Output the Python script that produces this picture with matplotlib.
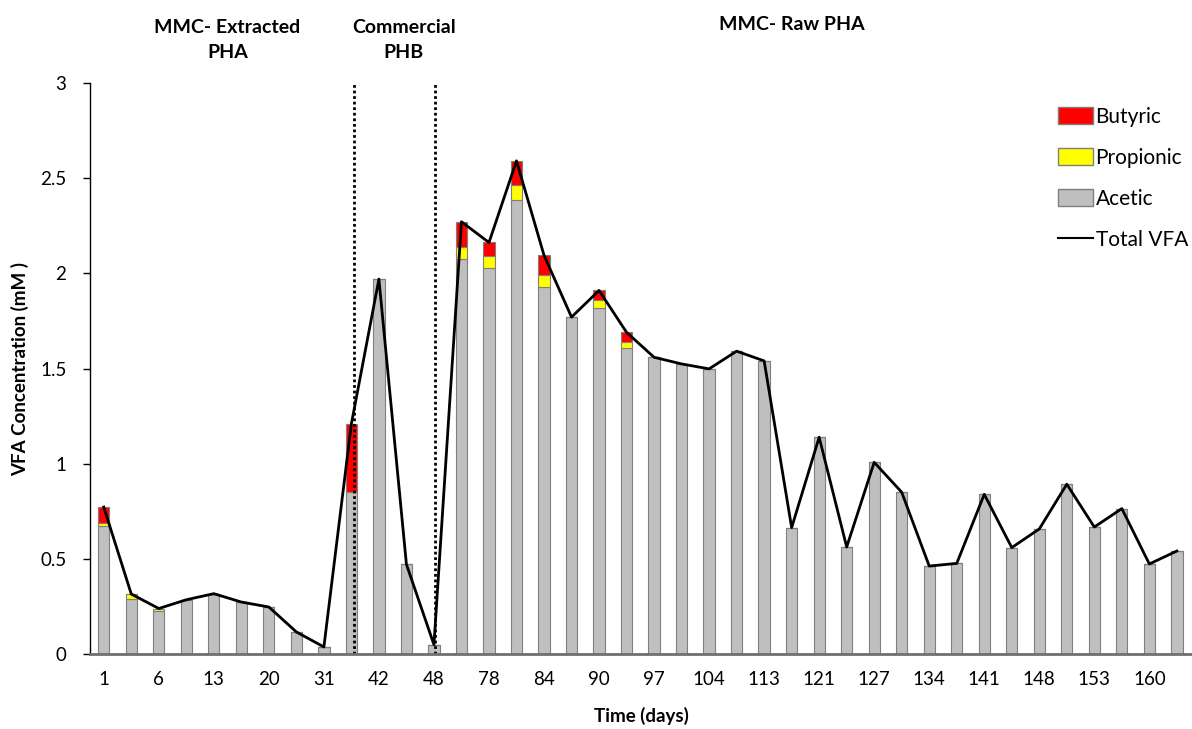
import matplotlib
matplotlib.use("Agg")
import matplotlib.pyplot as plt
import numpy as np
from matplotlib.patches import Patch
from matplotlib.lines import Line2D

plt.rcParams['font.family'] = ['Lato', 'DejaVu Sans']

# ---- data ----
shown_day_labels = ["1", "6", "13", "20", "31", "42", "48", "78", "84", "90",
                    "97", "104", "113", "121", "127", "134", "141", "148", "153", "160"]
acetic = [0.67, 0.29, 0.227, 0.285, 0.317, 0.273, 0.247, 0.116, 0.037, 0.85,
          1.97, 0.471, 0.049, 2.075, 2.026, 2.383, 1.93, 1.77, 1.82, 1.61,
          1.559, 1.524, 1.498, 1.591, 1.54, 0.664, 1.139, 0.562, 1.007, 0.85,
          0.462, 0.476, 0.839, 0.559, 0.657, 0.892, 0.667, 0.764, 0.473, 0.541]
propionic = [0.018, 0.025, 0.012, 0, 0, 0, 0, 0, 0, 0,
             0, 0, 0, 0.061, 0.063, 0.082, 0.06, 0, 0.04, 0.03,
             0, 0, 0, 0, 0, 0, 0, 0, 0, 0,
             0, 0, 0, 0, 0, 0, 0, 0, 0, 0]
butyric = [0.084, 0, 0, 0, 0, 0, 0, 0, 0, 0.36,
           0, 0, 0, 0.135, 0.073, 0.126, 0.105, 0, 0.05, 0.05,
           0, 0, 0, 0, 0, 0, 0, 0, 0, 0,
           0, 0, 0, 0, 0, 0, 0, 0, 0, 0]
total_vfa = [0.772, 0.315, 0.239, 0.285, 0.317, 0.273, 0.247, 0.116, 0.037, 1.21,
             1.97, 0.471, 0.049, 2.271, 2.162, 2.591, 2.095, 1.77, 1.91, 1.69,
             1.559, 1.524, 1.498, 1.591, 1.54, 0.664, 1.139, 0.562, 1.007, 0.85,
             0.462, 0.476, 0.839, 0.559, 0.657, 0.892, 0.667, 0.764, 0.473, 0.541]
phase_labels = ["MMC- Extracted\nPHA", "Commercial\nPHB", "MMC- Raw PHA"]
phase_centers = [4.5, 10.9, 25.0]
phase_bounds = [9.08, 12.05]

acetic = np.array(acetic)
propionic = np.array(propionic)
butyric = np.array(butyric)
x = np.arange(len(acetic))

W, H = 1192, 729
fig = plt.figure(figsize=(W / 100, H / 100), dpi=100)
ax = fig.add_axes([90 / W, (H - 654) / H, 1 - 90 / W, (654 - 83) / H])

w = 0.41
ec = '#7f7f7f'
ax.bar(x, acetic, width=w, color='#bfbfbf', edgecolor=ec, linewidth=0.8, zorder=2)
ax.bar(x, propionic, width=w, bottom=acetic, color='#ffff00', edgecolor=ec, linewidth=0.8, zorder=2)
ax.bar(x, butyric, width=w, bottom=acetic + propionic, color='#ff0000', edgecolor=ec, linewidth=0.8, zorder=2)
ax.plot(x, total_vfa, color='black', linewidth=2, zorder=4)

for b in phase_bounds:
    ax.plot([b, b], [0, 3], color='black', linestyle=(0, (1, 1)), linewidth=2, zorder=5)

ax.set_xlim(-0.5, 39.55)
ax.set_ylim(0, 3)
ax.set_yticks([0, 0.5, 1, 1.5, 2, 2.5, 3])
ax.set_yticklabels(["0", "0.5", "1", "1.5", "2", "2.5", "3"])
ax.set_xticks(x[::2])
ax.set_xticklabels(shown_day_labels)
ax.tick_params(axis='x', length=0, pad=12, labelsize=13.5)
ax.tick_params(axis='y', length=5, width=1, pad=12, labelsize=13.5, color='black')

for s in ['top', 'right']:
    ax.spines[s].set_visible(False)
ax.spines['left'].set_color('black')
ax.spines['left'].set_linewidth(1)
ax.spines['bottom'].set_color('#6f6f6f')
ax.spines['bottom'].set_linewidth(2)
ax.spines['bottom'].set_zorder(6)

ax.set_ylabel("VFA Concentration (mM )", fontsize=13.5, fontweight='bold', labelpad=8)
ax.set_xlabel("Time (days)", fontsize=13.5, fontweight='bold', labelpad=14)

for lab, cx in zip(phase_labels, phase_centers):
    yv = 3.227 if "\n" in lab else 3.305
    ax.text(cx, yv, lab, ha='center', va='center', fontsize=14,
            fontweight='bold', linespacing=1.55, clip_on=False)

handles = [Patch(facecolor='#ff0000', edgecolor=ec, label='Butyric'),
           Patch(facecolor='#ffff00', edgecolor=ec, label='Propionic'),
           Patch(facecolor='#bfbfbf', edgecolor=ec, label='Acetic'),
           Line2D([0], [0], color='black', linewidth=1.5, label='Total VFA')]
leg = fig.legend(handles=handles, loc='upper left',
                 bbox_to_anchor=(1058 / W, 1 - 107 / H), bbox_transform=fig.transFigure,
                 frameon=False, fontsize=15, labelspacing=1.0, handlelength=1.7,
                 handleheight=0.9, handletextpad=0.1, borderaxespad=0, borderpad=0)

fig.savefig("out.png", dpi=100)
